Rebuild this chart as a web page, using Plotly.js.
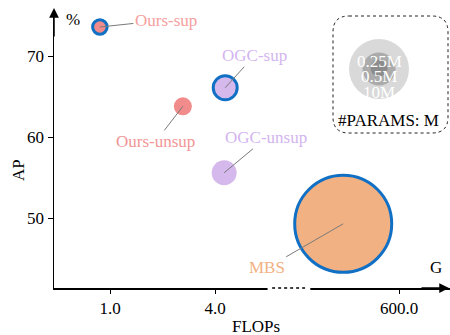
<!DOCTYPE html>
<html>
<head>
<meta charset="utf-8">
<script src="https://cdn.plot.ly/plotly-3.0.1.min.js"></script>
<style>html,body{margin:0;padding:0;background:#fff;}#chart{width:450px;height:335px;}</style>
</head>
<body>
<div id="chart"></div>
<script>
// ---- data (x = position on the broken FLOPs axis) ----
var methods   = ["Ours-sup", "Ours-unsup", "OGC-sup", "OGC-unsup", "MBS"];
var flopsPos  = [0.71, 3.08, 4.29, 4.26, 7.66];
var apValues  = [73.6, 63.8, 66.1, 55.6, 49.3];
var bubbleSize = [14.5, 18, 24, 25, 97];
var supervised = [true, false, true, false, true];
var xTickVals = [1, 4, 9.26];
var xTickText = ["1.0", "4.0", "600.0"];
var yTickVals = [50, 60, 70];
var legendLabels = ["0.25M", "0.5M", "10M"];

// ---- styling ----
var fillColors = ["#F28B8B", "#F28B8B", "#D5B8EC", "#D5B8EC", "#F2B183"];
var labelColors = ["#F5A0A0", "#F29595", "#D3B5F0", "#D3B5F0", "#F2B183"];
var labelOffsets = [[66, -7], [-27, 35], [29, -32], [42, -35], [-76, 44]];
var font = "Liberation Serif, Times New Roman, serif";
var FS = 17;

// plot area in pixels
var L = 54, R = 450, T = 10, B = 288;
function PX(px) { return (px - L) / (R - L); }
function PY(py) { return (B - py) / (B - T); }

var trace = {
  type: "scatter", mode: "markers",
  x: flopsPos, y: apValues, text: methods,
  marker: {
    size: bubbleSize, color: fillColors, opacity: 1,
    line: { color: "#1170C4", width: supervised.map(function (s) { return s ? 3 : 0; }) }
  },
  hoverinfo: "text", cliponaxis: false
};

var annotations = methods.map(function (m, i) {
  return {
    x: flopsPos[i], y: apValues[i], xref: "x", yref: "y",
    xanchor: "center", yanchor: "middle",
    text: m, showarrow: true, arrowhead: 0, arrowwidth: 1, arrowcolor: "#7a7a7a",
    ax: labelOffsets[i][0], ay: labelOffsets[i][1], standoff: 0,
    font: { family: font, size: FS, color: labelColors[i] }
  };
});

// axis arrows
annotations.push({ xref: "paper", yref: "paper", x: 0, y: PY(8), ax: 0, ay: 30, text: "",
  showarrow: true, arrowhead: 2, arrowsize: 1.3, arrowwidth: 1.5, arrowcolor: "#000", standoff: 0 });
annotations.push({ xref: "paper", yref: "paper", x: PX(450), y: 0, ax: -30, ay: 0, text: "",
  showarrow: true, arrowhead: 2, arrowsize: 1.3, arrowwidth: 1.5, arrowcolor: "#000", standoff: 0 });

function label(px, py, text, opts) {
  var a = { xref: "paper", yref: "paper", x: PX(px), y: PY(py), text: text, showarrow: false,
    xanchor: "center", yanchor: "middle", font: { family: font, size: FS, color: "#000" } };
  for (var k in (opts || {})) a[k] = opts[k];
  return a;
}
// axis labels
annotations.push(label(73, 19, "%"));
annotations.push(label(436, 267, "G"));
annotations.push(label(18, 170, "AP", { textangle: -90 }));
annotations.push(label(256, 326, "FLOPs"));

// size legend texts
var legendY = [62, 77, 92];
legendLabels.forEach(function (t, i) {
  annotations.push(label(379, legendY[i], t, { font: { family: font, size: FS, color: "#ffffff" } }));
});
annotations.push(label(388, 120, "#PARAMS: M"));

// shapes: legend circles, rounded dotted box, axis break
function circle(cx, cy, d, color) {
  return { type: "circle", xref: "paper", yref: "paper", layer: "below",
    x0: PX(cx - d / 2), x1: PX(cx + d / 2), y0: PY(cy + d / 2), y1: PY(cy - d / 2),
    fillcolor: color, line: { width: 0 } };
}
function roundRect(x0, y0, x1, y1, r) {
  var p = "M" + PX(x0 + r) + "," + PY(y0) +
    " L" + PX(x1 - r) + "," + PY(y0) +
    " Q" + PX(x1) + "," + PY(y0) + " " + PX(x1) + "," + PY(y0 + r) +
    " L" + PX(x1) + "," + PY(y1 - r) +
    " Q" + PX(x1) + "," + PY(y1) + " " + PX(x1 - r) + "," + PY(y1) +
    " L" + PX(x0 + r) + "," + PY(y1) +
    " Q" + PX(x0) + "," + PY(y1) + " " + PX(x0) + "," + PY(y1 - r) +
    " L" + PX(x0) + "," + PY(y0 + r) +
    " Q" + PX(x0) + "," + PY(y0) + " " + PX(x0 + r) + "," + PY(y0) + " Z";
  return { type: "path", xref: "paper", yref: "paper", path: p, layer: "below",
    line: { color: "#222", width: 1, dash: "dot" } };
}
var shapes = [
  roundRect(333, 16, 448, 133, 16),
  circle(379, 69, 60, "#D9D9D9"),
  circle(379, 69, 33, "#ABABAB"),
  circle(379, 68, 17, "#8C8C8C"),
  { type: "rect", xref: "x", yref: "paper", layer: "above", x0: 5.5, x1: 6.72, y0: -0.012, y1: 0.012,
    fillcolor: "#fff", line: { width: 0 } },
  { type: "line", xref: "x", yref: "paper", layer: "above", x0: 5.63, x1: 6.57, y0: 0, y1: 0,
    line: { color: "#000", width: 1.5, dash: "dot" } }
];

var layout = {
  width: 450, height: 335,
  margin: { l: L, r: 450 - R, t: T, b: 335 - B },
  paper_bgcolor: "#fff", plot_bgcolor: "#fff",
  showlegend: false,
  font: { family: font, size: FS, color: "#000" },
  xaxis: {
    range: [-0.6, 10.71], tickvals: xTickVals, ticktext: xTickText,
    showgrid: false, zeroline: false, showline: true, linecolor: "#000", linewidth: 1.5,
    ticks: "outside", ticklen: 4, tickwidth: 1, tickcolor: "#000",
    tickfont: { family: font, size: FS, color: "#000" }
  },
  yaxis: {
    range: [41.37, 75.7], tickvals: yTickVals,
    showgrid: false, zeroline: false, showline: true, linecolor: "#000", linewidth: 1.5,
    ticks: "outside", ticklen: 5, tickwidth: 1, tickcolor: "#000",
    tickfont: { family: font, size: FS, color: "#000" }
  },
  shapes: shapes,
  annotations: annotations
};

Plotly.newPlot("chart", [trace], layout, { staticPlot: true, displayModeBar: false });
</script>
</body>
</html>
